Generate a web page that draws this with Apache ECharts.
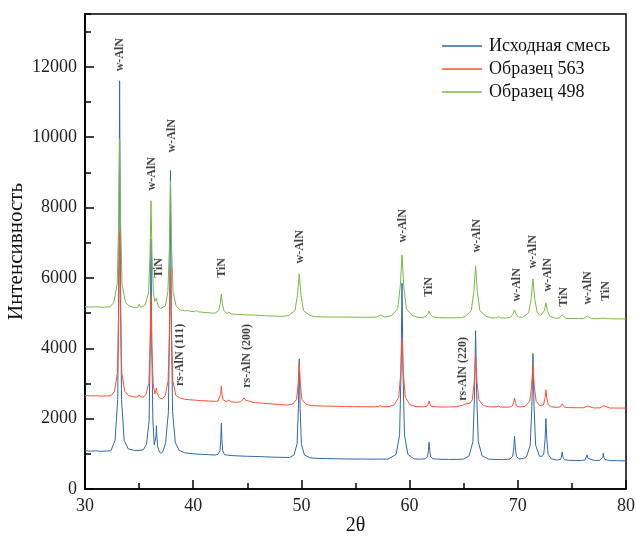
<!DOCTYPE html>
<html><head><meta charset="utf-8">
<script src="https://cdn.jsdelivr.net/npm/echarts@6/dist/echarts.min.js"></script>
<style>html,body{margin:0;padding:0;background:#fff}#c{width:636px;height:537px}</style>
</head><body><div id="c"></div>
<script>
var seriesNames = ['Исходная смесь', 'Образец 563', 'Образец 498'];
var xTicks = {min: 30, max: 80, step: 10};
var yTicks = {min: 0, max: 13500, step: 2000, minorStep: 1000};

var blueData = [
[30.0,1090],[30.5,1075],[31.0,1085],[31.5,1070],[32.0,1080],[32.4,1090],
[32.78,1385],[33.025,2550],[33.13,6350],[33.2,11600],[33.27,6350],[33.375,2550],[33.62,1385],
[34.0,1140],[34.5,1100],[35.0,1095],[35.4,1120],
[35.68,1260],[35.925,1930],[36.03,4100],[36.1,7100],[36.17,4100],[36.275,1930],
[36.4,1250],[36.52,1300],[36.56,1480],[36.6,1800],[36.64,1480],[36.72,1200],[36.85,1080],
[37.0,1010],[37.2,1060],[37.45,1315],[37.71,2200],[37.825,5075],[37.9,9050],[37.975,5075],[38.09,2200],[38.35,1315],
[38.7,1100],[39.2,1030],[39.7,1010],[40.2,995],[40.8,985],[41.4,975],[42.0,965],
[42.3,985],[42.475,1085],[42.55,1415],[42.6,1870],[42.65,1415],[42.725,1085],[42.9,975],
[43.5,950],[44.2,940],[45.0,930],[45.8,925],[46.6,915],[47.4,905],[48.2,900],[48.9,895],
[49.32,966],[49.6,1280],[49.72,2295],[49.8,3700],[49.88,2295],[50.0,1280],[50.28,966],
[50.8,885],[51.5,870],[52.3,865],[53.1,860],[54.0,855],[54.8,850],[55.6,852],[56.4,848],[57.2,850],[58.0,848],
[58.76,985],[59.075,1540],[59.21,3350],[59.3,5850],[59.39,3350],[59.525,1540],[59.84,985],
[60.4,855],[61.0,848],[61.44,860],[61.65,910],[61.74,1090],[61.8,1330],[61.86,1090],[61.95,910],[62.16,860],
[62.8,845],[63.6,840],[64.4,842],[65.0,850],
[65.5,940],[65.85,1345],[66.0,2670],[66.1,4500],[66.2,2670],[66.35,1345],[66.7,940],
[67.3,850],[68.0,838],[68.7,835],
[69.28,855],[69.525,925],[69.63,1165],[69.7,1500],[69.77,1165],[69.875,925],[70.12,855],
[70.5,865],[70.8,910],[71.15,1245],[71.3,2340],[71.4,3850],[71.5,2340],[71.65,1245],[72.0,930],[72.25,930],
[72.4,990],[72.52,1415],[72.6,2000],[72.68,1415],[72.8,990],[73.08,860],
[73.6,820],[73.95,840],[74.02,900],[74.1,1050],[74.18,900],[74.3,835],[74.7,815],[75.3,812],[75.9,810],
[76.22,825],[76.33,875],[76.4,970],[76.47,875],[76.6,825],[77.1,808],[77.6,815],
[77.78,850],[77.85,900],[77.9,1020],[77.95,900],[78.05,840],[78.5,808],[79.2,803],[80.0,800]
];

var redData = [
[30.0,2655],[30.5,2645],[31.0,2650],[31.5,2640],[32.0,2645],[32.4,2650],
[32.72,2775],[33.0,3290],[33.12,4975],[33.2,7300],[33.28,4975],[33.4,3290],[33.68,2775],
[34.0,2660],[34.5,2620],[34.85,2610],[35.0,2680],[35.15,2615],[35.4,2615],
[35.62,2680],[35.9,3000],[36.02,4045],[36.1,5490],[36.18,4045],[36.3,3000],
[36.45,2700],[36.54,2745],[36.6,2870],[36.66,2745],[36.78,2640],[36.95,2580],
[37.15,2560],[37.42,2660],[37.68,3075],[37.815,4425],[37.9,6290],[37.985,4425],[38.12,3075],[38.4,2660],
[38.75,2590],[39.2,2550],[39.7,2535],[40.2,2525],[40.8,2510],[41.4,2500],[42.0,2490],
[42.3,2500],[42.45,2540],[42.54,2705],[42.6,2930],[42.66,2705],[42.75,2540],[42.9,2495],
[43.1,2480],[43.3,2530],[43.5,2475],[44.0,2465],[44.4,2480],[44.55,2525],[44.7,2590],[44.85,2525],[45.0,2480],
[45.6,2455],[46.4,2440],[47.2,2420],[48.0,2400],[48.7,2385],
[49.2,2415],[49.55,2545],[49.7,2985],[49.8,3590],[49.9,2985],[50.05,2545],[50.4,2415],
[50.9,2370],[51.7,2360],[52.5,2355],[53.3,2350],[54.1,2345],[54.9,2340],[55.7,2338],[56.5,2335],[57.1,2340],[57.3,2370],[57.5,2338],[58.1,2340],
[58.58,2395],[59.0,2610],[59.18,3315],[59.3,4290],[59.42,3315],[59.6,2610],[60.02,2395],
[60.6,2340],[61.2,2335],[61.6,2350],[61.72,2415],[61.8,2500],[61.88,2415],[62.0,2350],
[62.7,2330],[63.5,2330],[64.3,2340],[64.9,2380],[65.2,2420],[65.4,2425],[65.6,2445],
[65.8,2535],[65.98,3070],[66.1,3810],[66.22,3070],[66.4,2535],[66.82,2370],
[67.4,2335],[68.0,2335],[68.2,2360],[68.4,2332],[69.0,2325],
[69.3,2335],[69.5,2360],[69.62,2455],[69.7,2590],[69.78,2455],[69.9,2360],[70.2,2330],
[70.68,2350],[71.1,2490],[71.28,2925],[71.4,3530],[71.52,2925],[71.7,2490],[72.05,2370],[72.2,2365],
[72.375,2390],[72.51,2570],[72.6,2820],[72.69,2570],[72.825,2390],[73.1,2335],
[73.6,2320],[73.95,2335],[74.02,2365],[74.1,2420],[74.18,2365],[74.3,2325],[74.8,2312],[75.5,2310],[76.1,2308],
[76.25,2320],[76.4,2360],[76.55,2320],[77.0,2305],[77.6,2305],[77.78,2325],[77.9,2370],[78.02,2325],[78.5,2302],[79.2,2300],[80.0,2300]
];

var greenData = [
[30.0,5185],[30.5,5170],[31.0,5178],[31.5,5165],[32.0,5172],[32.3,5175],
[32.66,5300],[32.975,5830],[33.11,7562],[33.2,9955],[33.29,7562],[33.425,5830],[33.74,5300],
[34.1,5200],[34.5,5160],[34.85,5160],[35.0,5250],[35.15,5160],[35.3,5165],
[35.56,5230],[35.875,5570],[36.01,6670],[36.1,8190],[36.19,6670],[36.325,5570],
[36.45,5330],[36.54,5320],[36.6,5430],[36.66,5320],[36.8,5180],[37.0,5130],
[37.15,5120],[37.42,5200],[37.66,5605],[37.805,6930],[37.9,8760],[37.995,6930],[38.14,5605],[38.42,5200],
[38.8,5090],[39.3,5060],[39.5,5080],[39.7,5050],[40.1,5040],[40.3,5070],[40.5,5035],[41.0,5020],[41.6,5005],[42.0,4995],
[42.35,5070],[42.5,5260],[42.6,5545],[42.7,5260],[42.85,5070],[43.1,4985],[43.3,5030],[43.5,4975],
[44.2,4960],[45.0,4950],[45.8,4940],[46.6,4925],[47.4,4915],[48.2,4905],
[48.84,4933],[49.4,5068],[49.64,5507],[49.8,6115],[49.96,5507],[50.2,5068],[50.76,4933],
[51.3,4895],[52.1,4890],[52.9,4885],[53.7,4888],[54.5,4885],[55.3,4882],[56.1,4880],[56.9,4885],[57.3,4940],[57.7,4885],
[58.34,4928],[58.9,5125],[59.14,5767],[59.3,6655],[59.46,5767],[59.7,5125],[60.26,4928],
[60.8,4875],[61.2,4872],[61.45,4895],[61.68,4965],[61.8,5060],[61.92,4965],[62.15,4895],
[62.7,4868],[63.5,4865],[64.3,4866],[64.8,4870],
[65.14,4905],[65.7,5068],[65.94,5602],[66.1,6340],[66.26,5602],[66.5,5068],[67.06,4905],
[67.6,4862],[68.0,4865],[68.2,4900],[68.4,4862],[68.9,4860],
[69.3,4880],[69.56,4970],[69.7,5090],[69.84,4970],[70.1,4880],
[70.44,4880],[71.0,5005],[71.24,5410],[71.4,5970],[71.56,5410],[71.8,5005],[72.1,4930],[72.25,4925],
[72.46,5070],[72.6,5290],[72.74,5070],[72.95,4910],[73.4,4860],
[73.8,4850],[73.98,4895],[74.1,4950],[74.22,4895],[74.45,4848],[75.0,4845],[75.6,4842],[76.1,4845],
[76.26,4880],[76.4,4920],[76.54,4880],[76.8,4842],[77.4,4838],[77.74,4852],[77.9,4880],[78.06,4852],[78.5,4837],[79.2,4835],[80.0,4835]
];

var peakLabels = [
[33.23,12343,'w-AlN'],[36.19,8959,'w-AlN'],[36.84,6285,'TiN'],[38.04,10040,'w-AlN'],
[42.66,6285,'TiN'],[49.87,6882,'w-AlN'],[38.78,3811,'rs-AlN (111)'],[44.97,3783,'rs-AlN (200)'],
[59.39,7480,'w-AlN'],[61.79,5745,'TiN'],[66.23,7195,'w-AlN'],[64.94,3413,'rs-AlN (220)'],
[69.93,5802,'w-AlN'],[71.40,6740,'w-AlN'],[72.79,6086,'w-AlN'],[74.27,5460,'TiN'],
[76.49,5716,'w-AlN'],[78.15,5631,'TiN']
];

var colors = ['#2f68ad', '#ff5030', '#79b845'];
var serif = 'Liberation Serif';

var chart = echarts.init(document.getElementById('c'));
chart.setOption({
  animation: false,
  grid: {left: 85, right: 10, top: 14, bottom: 48, outerBoundsMode: 'none', containLabel: false,
         show: true, borderColor: '#000', borderWidth: 1.5, backgroundColor: 'transparent'},
  legend: {
    data: seriesNames, orient: 'vertical', left: 437, top: 32, icon: 'rect', itemWidth: 40, itemHeight: 1.5, itemGap: 5,
    textStyle: {fontFamily: serif, fontSize: 18, color: '#111', padding: [0, 0, 0, 2]}
  },
  xAxis: {
    type: 'value', min: xTicks.min, max: xTicks.max, interval: xTicks.step,
    name: '2θ', nameLocation: 'middle', nameGap: 27, nameMoveOverlap: false,
    nameTextStyle: {fontFamily: serif, fontSize: 20, color: '#111'},
    axisLine: {lineStyle: {color: '#000', width: 1.5}},
    axisTick: {inside: true, length: 9, lineStyle: {color: '#000', width: 1.5}},
    minorTick: {show: true, splitNumber: 2, length: 6, lineStyle: {color: '#000', width: 1.5}},
    axisLabel: {fontFamily: serif, fontSize: 18, color: '#222', margin: 8},
    splitLine: {show: false}
  },
  yAxis: [{
    type: 'value', min: yTicks.min, max: yTicks.max, interval: yTicks.minorStep, position: 'left',
    axisLine: {show: true, lineStyle: {color: '#000', width: 1.5}},
    axisTick: {inside: true, length: 6, lineStyle: {color: '#000', width: 1.5}},
    axisLabel: {show: false}, splitLine: {show: false}
  }, {
    type: 'value', min: yTicks.min, max: yTicks.max, interval: yTicks.step, position: 'left',
    name: 'Интенсивность', nameLocation: 'middle', nameGap: 58, nameMoveOverlap: false,
    nameTextStyle: {fontFamily: serif, fontSize: 21, color: '#111'},
    axisLine: {show: true, lineStyle: {color: '#000', width: 1.5}},
    axisTick: {inside: true, length: 9, lineStyle: {color: '#000', width: 1.5}},
    axisLabel: {fontFamily: serif, fontSize: 18, color: '#222', margin: 8, showMaxLabel: false,
                formatter: function (v) { return String(v); }},
    splitLine: {show: false}
  }],
  series: [
    {name: seriesNames[0], type: 'line', data: blueData, symbol: 'none', z: 2, lineStyle: {color: colors[0], width: 1}, itemStyle: {color: colors[0]}},
    {name: seriesNames[1], type: 'line', data: redData, symbol: 'none', z: 4, lineStyle: {color: colors[1], width: 1}, itemStyle: {color: colors[1]}},
    {name: seriesNames[2], type: 'line', data: greenData, symbol: 'none', z: 3, lineStyle: {color: colors[2], width: 1}, itemStyle: {color: colors[2]}},
    {name: 'labels', type: 'scatter', data: peakLabels, symbolSize: 0, silent: true, z: 10,
     label: {show: true, position: 'inside', rotate: 90, formatter: function (p) { return p.value[2]; },
             fontFamily: serif, fontSize: 12, fontWeight: 'bold', color: '#111'}}
  ]
});
</script></body></html>
